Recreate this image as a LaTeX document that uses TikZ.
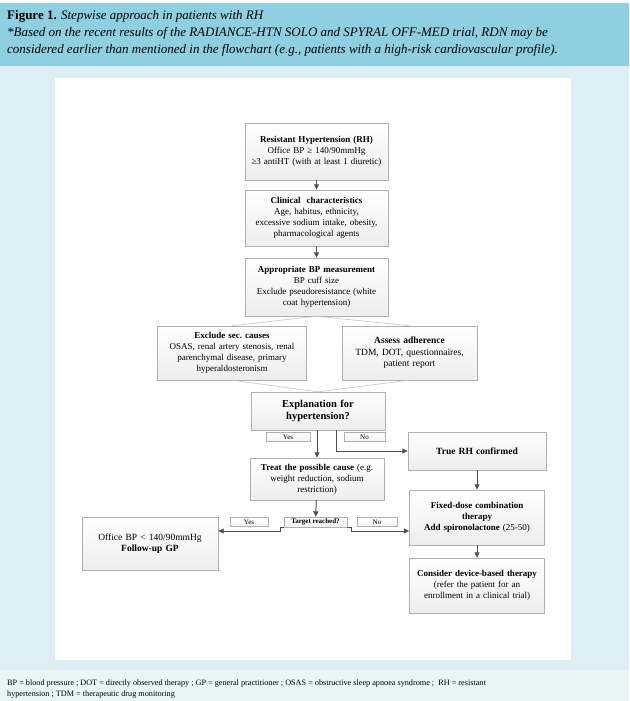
\documentclass[tikz,border=0pt]{standalone}
\usepackage{amsmath}
\usepackage{fontspec}
\setmainfont{Liberation Serif}
\usetikzlibrary{arrows.meta,shadows}

\definecolor{headblue}{RGB}{142,207,225}
\definecolor{panelblue}{RGB}{221,238,245}
\definecolor{footblue}{RGB}{234,245,249}
\definecolor{boxline}{RGB}{175,175,175}
\definecolor{arrowgray}{RGB}{80,80,80}

\tikzset{
  stepbox/.style={draw=boxline, top color=white, bottom color=gray!14, align=center,
    inner sep=1pt, font=\fontsize{9}{11}\selectfont,
    drop shadow={shadow xshift=0.8pt, shadow yshift=-0.8pt, opacity=0.25}},
  tag/.style={draw=boxline, top color=white, bottom color=gray!10, inner sep=0pt,
    font=\fontsize{7}{7.5}\selectfont},
  arr/.style={draw=arrowgray, line width=1pt, -{Triangle[length=5.5pt,width=5pt]}},
  link/.style={draw=gray!45, line width=0.6pt},
}

\begin{document}
\begin{tikzpicture}[x=1pt, y=-1pt]
        \useasboundingbox (0,0) rectangle (629,701);
        % 背景
        \fill[white] (0,0) rectangle (629,701);
        \fill[headblue] (0,3) rectangle (629,66);
        \fill[panelblue] (0,66) rectangle (629,670);
        \fill[footblue] (0,670) rectangle (629,701);
        \fill[white] (55,78) rectangle (571,660);
        % 标题.
        \node[anchor=base west, inner sep=0pt, font=\fontsize{13}{15}\selectfont] (title) at (7,20)
          {\textbf{Figure 1.} \textit{Stepwise approach in patients with RH}};
        \node[anchor=base west, inner sep=0pt, font=\fontsize{13}{15}\selectfont\itshape] (note1) at (7,37)
          {*Based on the recent results of the RADIANCE-HTN SOLO and SPYRAL OFF-MED trial, RDN may be};
        \node[anchor=base west, inner sep=0pt, font=\fontsize{13}{15}\selectfont\itshape] (note2) at (7,54)
          {considered earlier than mentioned in the flowchart (e.g., patients with a high-risk cardiovascular profile).};
        % 主干方框
        \node[stepbox, text width=141pt, minimum height=57pt] (rh) at (316.5,151.5)
          {\textbf{Resistant Hypertension (RH)}\\ Office BP ≥ 140/90mmHg\\ ≥3 antiHT (with at least 1 diuretic)};
        \node[stepbox, text width=141pt, minimum height=56pt] (clin) at (316.5,218)
          {\textbf{Clinical\ \ characteristics}\\ Age, habitus, ethnicity,\\ excessive sodium intake, obesity,\\ pharmacological agents};
        \node[stepbox, text width=141pt, minimum height=58pt] (meas) at (316.5,287)
          {\textbf{Appropriate BP measurement}\\ BP cuff size\\ Exclude pseudoresistance (white\\ coat hypertension)};
        % 两个并列方框
        \node[stepbox, text width=147pt, minimum height=54pt] (sec) at (232,353)
          {\textbf{Exclude sec.\ causes}\\ OSAS, renal artery stenosis, renal\\ parenchymal disease, primary\\ hyperaldosteronism};
        \node[stepbox, text width=133pt, minimum height=54pt, font=\fontsize{9.5}{11.5}\selectfont] (adh) at (409.5,353)
          {\textbf{Assess adherence}\\ TDM, DOT, questionnaires,\\ patient report};
        \node[stepbox, text width=132pt, minimum height=38pt, font=\fontsize{10.5}{12.5}\selectfont] (expl) at (318,411)
          {\textbf{Explanation for\\ hypertension?}};
        % 分支方框
        \node[stepbox, text width=136pt, minimum height=38pt, font=\fontsize{9.5}{11.5}\selectfont] (true) at (477,451)
          {\textbf{True RH confirmed}};
        \node[stepbox, text width=132pt, minimum height=42pt] (treat) at (317,479)
          {\textbf{Treat the possible cause} (e.g.\\ weight reduction, sodium\\ restriction)};
        \node[stepbox, text width=133pt, minimum height=55pt] (fixed) at (477,517.5)
          {\textbf{Fixed-dose combination\\ therapy\\ Add spironolactone} (25-50)};
        \node[stepbox, text width=133pt, minimum height=55pt] (device) at (477,585.5)
          {\textbf{Consider device-based therapy}\\ (refer the patient for an\\ enrollment in a clinical trial)};
        \node[stepbox, text width=134pt, minimum height=53pt, font=\fontsize{9.5}{11.5}\selectfont] (office) at (150,543.5)
          {Office BP < 140/90mmHg\\ \textbf{Follow-up GP}};
        % 小标签.
        \node[tag, minimum width=44pt, minimum height=9pt] (yes1) at (288,437) {Yes};
        \node[tag, minimum width=41pt, minimum height=9pt] (no1) at (364.5,437) {No};
        \node[tag, minimum width=63pt, minimum height=10pt] (target) at (315.5,522) {\textbf{Target reached?}};
        \node[tag, minimum width=38pt, minimum height=9pt] (yes2) at (249,522) {Yes};
        \node[tag, minimum width=40pt, minimum height=9pt] (no2) at (377,522) {No};
        \coordinate (arrowrow) at (0,531);
        % 连线
        \draw[arr] (rh) -- (clin);
        \draw[arr] (clin) -- (meas);
        \draw[link] (meas.south) -- (sec.north);
        \draw[link] (meas.south) -- (adh.north);
        \draw[link] (sec.south) -- (expl.north);
        \draw[link] (adh.south) -- (expl.north);
        \draw[arr] (expl.south -| treat.north) -- (treat.north);
        \draw[arr] ([xshift=18pt]expl.south) |- (true.west);
        \draw[arr] (true) -- (fixed);
        \draw[arr] (treat) -- (target);
        \draw[arr] (target.south west) -- ++(-3,0) |- (office.east |- arrowrow);
        \draw[arr] (target.south east) -- ++(4,0) |- (fixed.west |- arrowrow);
        \draw[arr] (fixed) -- (device);
        % 缩写说明.
        \node[anchor=base west, inner sep=0pt, font=\fontsize{8.2}{10}\selectfont] (abbr1) at (7,685)
          {BP = blood pressure ; DOT = directly observed therapy ; GP = general practitioner ; OSAS = obstructive sleep apnoea syndrome ;\ \ RH = resistant};
        \node[anchor=base west, inner sep=0pt, font=\fontsize{8.2}{10}\selectfont] (abbr2) at (7,696)
          {hypertension ; TDM = therapeutic drug monitoring};
      \end{tikzpicture}
\end{document}
